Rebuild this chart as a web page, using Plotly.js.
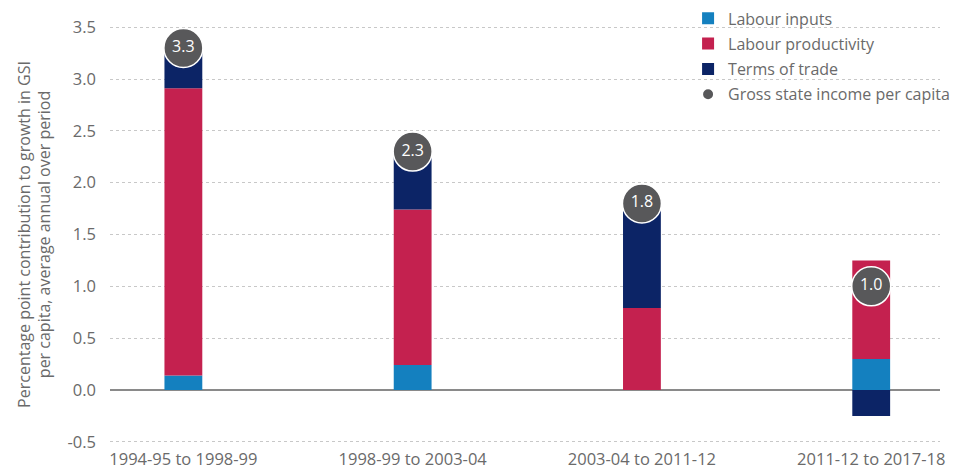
<!DOCTYPE html>
<html>
<head>
<meta charset="utf-8">
<script src="https://cdn.plot.ly/plotly-3.0.1.min.js"></script>
<style>html,body{margin:0;padding:0;background:#fff;}#chart{width:955px;height:474px;}</style>
</head>
<body>
<div id="chart"></div>
<script>
const periods = ["1994-95 to 1998-99", "1998-99 to 2003-04", "2003-04 to 2011-12", "2011-12 to 2017-18"];
const labourInputs = [0.14, 0.24, 0.0, 0.30];
const labourProductivity = [2.77, 1.50, 0.79, 0.95];
const termsOfTrade = [0.34, 0.53, 0.95, -0.25];
const gsiPerCapita = [3.3, 2.3, 1.8, 1.0];
const gsiLabels = ["3.3", "2.3", "1.8", "1.0"];
const yTickVals = [-0.5, 0, 0.5, 1, 1.5, 2, 2.5, 3, 3.5];
const yTickText = ["-0.5", "0.0", "0.5", "1.0", "1.5", "2.0", "2.5", "3.0", "3.5"];

const FONT = "'Open Sans', Lato, sans-serif";
const barW = 0.165;
const traces = [
  {type: "bar", name: "Labour inputs", legendgroup: "a", x: periods, y: labourInputs, width: barW, marker: {color: "#1480bf"}},
  {type: "bar", name: "Labour productivity", legendgroup: "b", x: periods, y: labourProductivity, width: barW, marker: {color: "#c4214f"}},
  {type: "bar", name: "Terms of trade", legendgroup: "c", x: periods, y: termsOfTrade, width: barW, marker: {color: "#0c2466"}},
  {type: "scatter", mode: "markers+text", name: "Gross state income per capita", legendgroup: "d", x: periods, y: gsiPerCapita,
   text: gsiLabels, textposition: "middle center", cliponaxis: false,
   textfont: {color: "#ffffff", size: 16, family: FONT},
   marker: {color: "#58585a", size: 39, line: {color: "#ffffff", width: 1.5}}}
];

const layout = {
  width: 955, height: 474,
  margin: {l: 110, r: 15, t: 22, b: 27, autoexpand: false},
  paper_bgcolor: "#ffffff", plot_bgcolor: "#ffffff",
  barmode: "relative",
  font: {family: FONT, color: "#6a6a6a", size: 16},
  showlegend: true,
  legend: {x: 0.7205, y: 0.997, xref: "container", yref: "container", xanchor: "left", yanchor: "top",
           traceorder: "grouped", font: {size: 16, color: "#6a6a6a", family: FONT},
           itemsizing: "constant", tracegroupgap: 1.5, bgcolor: "rgba(0,0,0,0)"},
  xaxis: {type: "category", range: [-0.32, 3.3], showgrid: false, showline: false, zeroline: false,
          ticks: "", tickfont: {size: 16.5, color: "#6a6a6a"}, fixedrange: true},
  yaxis: {range: [-0.55, 3.55], tickvals: yTickVals, ticktext: yTickText,
          showgrid: true, gridcolor: "#c8c8c8", griddash: "dot", gridwidth: 1,
          zeroline: true, zerolinecolor: "#8a8a8a", zerolinewidth: 1.5,
          showline: false, ticks: "", ticklabelstandoff: 13,
          tickfont: {size: 16.5, color: "#6a6a6a"},
          title: {text: "Percentage point contribution to growth in GSI<br>per capita, average annual over period",
                  font: {size: 16, color: "#6a6a6a"}, standoff: 12}}
};

Plotly.newPlot("chart", traces, layout, {displayModeBar: false, staticPlot: true});
</script>
</body>
</html>
